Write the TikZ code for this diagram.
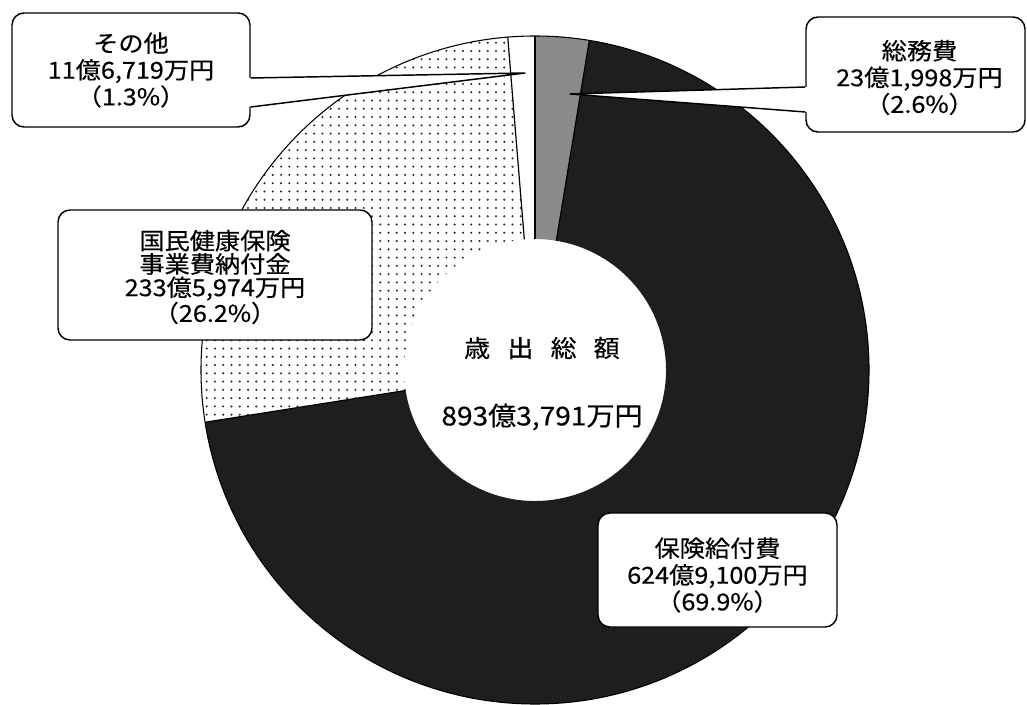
\documentclass[tikz,border=0pt]{standalone}
\usepackage{fontspec}
\setmainfont{Noto Sans CJK JP}[FakeBold=0.4,FakeStretch=1.08]
\usetikzlibrary{patterns.meta,calc}
\definecolor{darkslice}{HTML}{1E1E1E}
\definecolor{greyslice}{HTML}{8A8A8A}
\tikzset{
  callout/.style={draw=black, line width=1.1pt, fill=white, rounded corners=9pt, align=center, inner sep=0pt},
  calltext/.style={font=\fontsize{17.5}{20}\selectfont},
  sepline/.style={draw=black, line width=0.9pt},
  tailline/.style={draw=black, line width=1.1pt, line join=round},
  dotfill/.style={pattern={Dots[distance=6.2pt,radius=0.85pt]}, pattern color=black!85},
}
\newcommand\donutslice[3]{%
  \path[#3] ($(c)+(#1:\Ro)$) arc[start angle=#1, end angle=#2, radius=\Ro]
    -- ($(c)+(#2:\Ri)$) arc[start angle=#2, end angle=#1, radius=\Ri] -- cycle;}
\begin{document}
\begin{tikzpicture}[x=0.75pt,y=0.75pt]
\useasboundingbox (0,0) rectangle (1027,704);
\fill[white] (0,0) rectangle (1027,704);
\coordinate (c) at (535,334);
\def\Ro{334}\def\Ri{131}
% slices
\donutslice{90}{80.64}{fill=greyslice}
\donutslice{80.64}{-171.0}{fill=darkslice}
\donutslice{-171.0}{-265.32}{fill=white}
\donutslice{-171.0}{-265.32}{dotfill}
\donutslice{-265.32}{-270}{fill=white}
% separators
\foreach \a in {90,80.64,-171.0,94.68}
  \draw[sepline] ($(c)+(\a:\Ri)$) -- ($(c)+(\a:\Ro)$);
\draw[line width=0.8pt] (c) circle[radius=\Ro];
% centre text
\node[font=\fontsize{18}{22}\selectfont] (title) at (542,356) {歳\hspace{0.72em}出\hspace{0.72em}総\hspace{0.72em}額};
\node[font=\fontsize{19.5}{24}\selectfont] (total) at (542,287) {893億3,791万円};
% callouts
\node[callout, minimum width=178.5pt, minimum height=85.5pt] (sonota) at (131,634) {};
\node[callout, minimum width=164.25pt, minimum height=86.25pt] (somu) at (915.5,629.5) {};
\node[callout, minimum width=235.5pt, minimum height=97.5pt] (kokuho) at (215,429) {};
\node[callout, minimum width=179.25pt, minimum height=85.5pt] (hoken) at (717.5,134) {};
% tails
\coordinate (tipA) at (525,631);
\coordinate (a1) at ($(sonota.east)+(0,-8)$);
\coordinate (a2) at ($(sonota.east)+(0,-37)$);
\fill[white] ($(a1)+(-3,0)$) -- (tipA) -- ($(a2)+(-3,0)$) -- cycle;
\draw[tailline] (a1) -- (tipA) -- (a2);
\coordinate (tipB) at (570,610);
\coordinate (b1) at ($(somu.west)+(0,-12.5)$);
\coordinate (b2) at ($(somu.west)+(0,-37.5)$);
\fill[white] ($(b1)+(3,0)$) -- (tipB) -- ($(b2)+(3,0)$) -- cycle;
\draw[tailline] (b1) -- (tipB) -- (b2);
% callout texts
\node[calltext, align=center] (sonotaT) at (sonota) {その他\\11億6,719万円\\（1.3\%）};
\node[calltext, align=center] (somuT) at ($(somu)+(4,-3)$) {総務費\\23億1,998万円\\（2.6\%）};
\node[font=\fontsize{17.5}{17.5}\selectfont, align=center] (kokuhoT) at ($(kokuho)+(0,-2)$) {国民健康保険\\事業費納付金\\233億5,974万円\\（26.2\%）};
\node[calltext, align=center] (hokenT) at ($(hoken)+(0,-5)$) {保険給付費\\624億9,100万円\\（69.9\%）};
\end{tikzpicture}
\end{document}
